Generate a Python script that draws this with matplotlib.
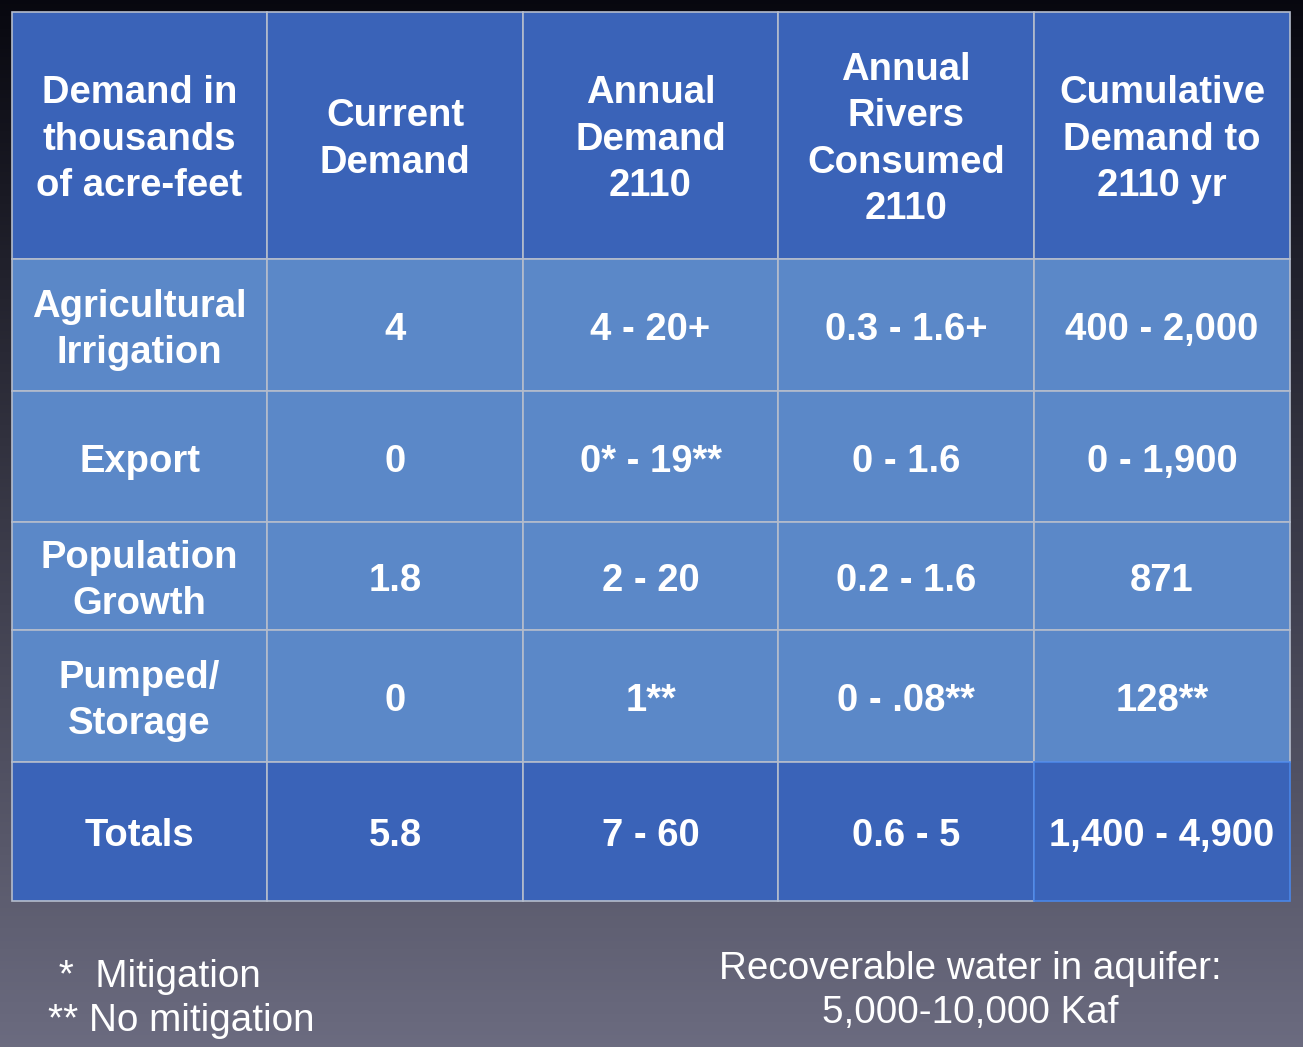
import numpy as np
import matplotlib.pyplot as plt
from matplotlib.patches import Rectangle

# Данные таблицы
col_headers = ["Demand in\nthousands\nof acre-feet", "Current\nDemand", "Annual\nDemand\n2110",
               "Annual\nRivers\nConsumed\n2110", "Cumulative\nDemand to\n2110 yr"]
row_labels = ["Agricultural\nIrrigation", "Export", "Population\nGrowth", "Pumped/\nStorage", "Totals"]
current_demand = ["4", "0", "1.8", "0", "5.8"]
annual_demand = ["4 - 20+", "0* - 19**", "2 - 20", "1**", "7 - 60"]
rivers_consumed = ["0.3 - 1.6+", "0 - 1.6", "0.2 - 1.6", "0 - .08**", "0.6 - 5"]
cumulative = ["400 - 2,000", "0 - 1,900", "871", "128**", "1,400 - 4,900"]
footnotes = " *  Mitigation\n** No mitigation"
aquifer_note = "Recoverable water in aquifer:\n5,000-10,000 Kaf"

W, H = 1303, 1047
fig = plt.figure(figsize=(W / 100, H / 100), dpi=100)
ax = fig.add_axes([0, 0, 1, 1])
ax.set_xlim(0, W)
ax.set_ylim(H, 0)
ax.axis("off")

# Фон - вертикальный градиент
top = np.array([0.03, 0.03, 0.06])
bottom = np.array([0.42, 0.42, 0.50])
g = np.linspace(0, 1, 256)[:, None]
grad = top + (bottom - top) * g
grad = np.repeat(grad[:, None, :], 2, axis=1)
ax.imshow(grad, extent=[0, W, H, 0], aspect="auto", zorder=0)

# Границы столбцов и строк
col_x = [12, 267, 523, 778, 1034, 1290]
row_y = [12, 259, 391, 522, 630, 762, 901]

header_color = "#3a63b8"
body_color = "#5b88c8"
line_color = "#b4bccc"

columns = [row_labels, current_demand, annual_demand, rivers_consumed, cumulative]
n_rows = len(row_labels)

font = dict(family=["Liberation Sans", "DejaVu Sans"], fontweight="bold", color="white",
            fontsize=27.5, ha="center", va="center", linespacing=1.36)

for j, header in enumerate(col_headers):
    x0, x1 = col_x[j], col_x[j + 1]
    ax.add_patch(Rectangle((x0, row_y[0]), x1 - x0, row_y[1] - row_y[0],
                           facecolor=header_color, edgecolor=line_color, lw=1.2, zorder=1))
    ax.text((x0 + x1) / 2, (row_y[0] + row_y[1]) / 2 + 4, header, zorder=3, **font)

for i in range(n_rows):
    y0, y1 = row_y[i + 1], row_y[i + 2]
    fc = header_color if i == n_rows - 1 else body_color
    for j, col in enumerate(columns):
        x0, x1 = col_x[j], col_x[j + 1]
        ec = "#4a86e8" if (i == n_rows - 1 and j == len(columns) - 1) else line_color
        ax.add_patch(Rectangle((x0, y0), x1 - x0, y1 - y0,
                               facecolor=fc, edgecolor=ec, lw=1.2,
                               zorder=2 if ec != line_color else 1))
        ax.text((x0 + x1) / 2, (y0 + y1) / 2 + 5, col[i], zorder=3, **font)

# Примечания
note_font = dict(family=["Liberation Sans", "DejaVu Sans"], color="white", fontsize=27.8,
                 va="center", linespacing=1.28)
ax.text(48, 999, footnotes, ha="left", **note_font)
ax.text(970, 991, aquifer_note, ha="center", multialignment="center", **note_font)

fig.savefig("out.png", dpi=100)
